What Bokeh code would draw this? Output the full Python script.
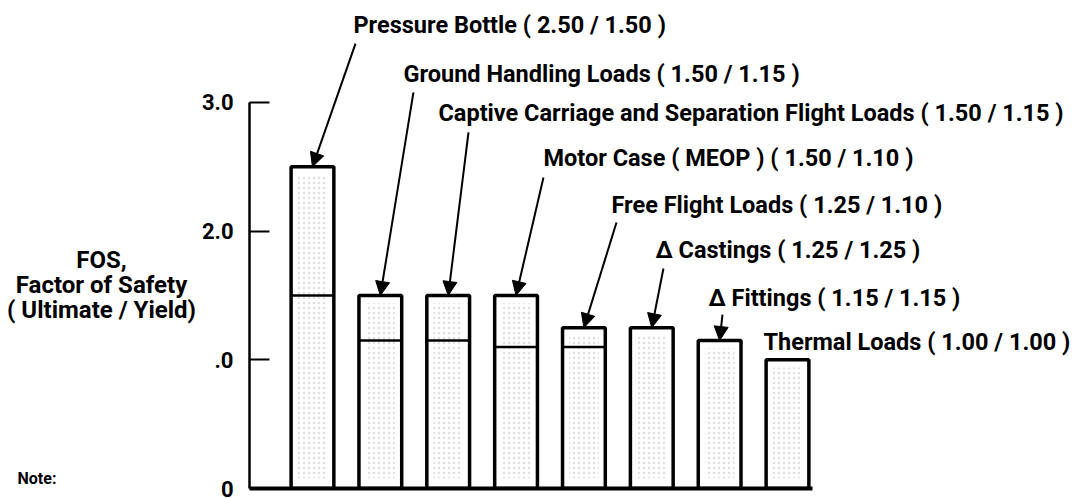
from bokeh.plotting import figure
from bokeh.models import (ColumnDataSource, Range1d, FixedTicker, Arrow, NormalHead,
                          LinearAxis)
from bokeh.layouts import row
from bokeh.core.properties import value
from bokeh.embed import file_html
from bokeh.resources import INLINE

# ---- data ----
categories = ["Pressure Bottle", "Ground Handling Loads",
              "Captive Carriage and Separation Flight Loads", "Motor Case ( MEOP )",
              "Free Flight Loads", "\u0394 Castings", "\u0394 Fittings", "Thermal Loads"]
ultimate = [2.50, 1.50, 1.50, 1.50, 1.25, 1.25, 1.15, 1.00]
yield_ = [1.50, 1.15, 1.15, 1.10, 1.10, 1.25, 1.15, 1.00]
y_ticks = [0, 1, 2, 3]
y_tick_labels = {0: "0", 1: ".0", 2: "2.0", 3: "3.0"}
y_title = ["FOS,", "Factor of Safety", "( Ultimate / Yield)"]
note = "Note:"

# ---- layout (annotation positions) ----
label_x = [0.604, 1.341, 1.857, 3.404, 4.406, 5.055, 5.836, 6.646]
label_y = [3.606, 3.225, 2.922, 2.565, 2.207, 1.850, 1.484, 1.142]
tail_x = [0.634, 1.488, 2.299, 3.404, 4.480, 5.172, 6.042]
tail_y = [3.458, 3.078, 2.767, 2.417, 2.067, 1.710, 1.352]
title_y = [233, 208, 182]   # left panel, px from bottom

FONT = "Roboto"
n = len(categories)
xs = list(range(n))
W = 0.63
H = 498
BOTTOM = 10
LW = 196
YR = Range1d(0, 3.7927)

texts = [f"{c} ( {u:.2f} / {y:.2f} )" for c, u, y in zip(categories, ultimate, yield_)]

# ---- left panel with axis title ----
lf = figure(width=LW, height=H, output_backend="svg", toolbar_location=None,
            x_range=Range1d(0, LW), y_range=Range1d(0, H), x_axis_type=None, y_axis_type=None,
            min_border_left=0, min_border_right=0, min_border_top=0, min_border_bottom=0)
lf.outline_line_color = None
lf.grid.visible = False
lf.text(x=[101] * 3, y=title_y, text=y_title, text_font=value(FONT), text_font_style="bold",
        text_font_size="24px", text_align="center", text_baseline="middle", text_color="black")
lf.text(x=[17], y=[10], text=[note], text_font=value(FONT), text_font_style="bold",
        text_font_size="16px", text_align="left", text_baseline="middle", text_color="black")

# ---- main chart ----
X0 = -0.928
PW = 878
BL = 53
p = figure(width=PW, height=H, output_backend="svg", toolbar_location=None,
           x_range=Range1d(X0, X0 + (PW - BL) / 67.86), y_range=YR,
           min_border_left=BL, min_border_right=0, min_border_top=0, min_border_bottom=BOTTOM,
           x_axis_type=None, y_axis_type=None)
p.outline_line_color = None
p.background_fill_color = "white"

ya = LinearAxis(ticker=FixedTicker(ticks=y_ticks), major_label_overrides=y_tick_labels,
                bounds=(0, 3))
ya.axis_line_width = 2.5
ya.axis_line_color = "black"
ya.major_tick_in = 20
ya.major_tick_out = 0
ya.major_tick_line_width = 2
ya.minor_tick_line_color = None
ya.major_label_standoff = 16
ya.major_label_text_font = FONT
ya.major_label_text_font_style = "bold"
ya.major_label_text_font_size = "22px"
ya.major_label_text_color = "black"
p.add_layout(ya, "left")

xa = LinearAxis(ticker=FixedTicker(ticks=[]), bounds=(X0, n - 1 + 0.37))
xa.axis_line_width = 4
xa.axis_line_color = "black"
xa.major_tick_line_color = None
xa.minor_tick_line_color = None
xa.major_label_text_font_size = "0px"
xa.major_label_standoff = 0
p.add_layout(xa, "below")

src = ColumnDataSource(dict(x=xs, ult=ultimate, yld=yield_,
                            inner_top=[u - 0.06 for u in ultimate],
                            inner_bot=[0.08] * n))
p.vbar(x="x", top="inner_top", bottom="inner_bot", width=W * 0.7, source=src,
       fill_color=None, line_color=None, hatch_pattern="dot", hatch_color="#999999",
       hatch_alpha=0.3, hatch_scale=5, hatch_weight=1)
p.vbar(x="x", top="ult", bottom=0, width=W, source=src, fill_color=None,
       line_color="black", line_width=3.5)
yx0 = [x - W / 2 for x, u, y in zip(xs, ultimate, yield_) if y < u]
yx1 = [x + W / 2 for x, u, y in zip(xs, ultimate, yield_) if y < u]
yy = [y for u, y in zip(ultimate, yield_) if y < u]
p.segment(x0=yx0, x1=yx1, y0=yy, y1=yy, line_color="black", line_width=2.5)

p.text(x=label_x, y=label_y, text=texts, text_font=value(FONT), text_font_style="bold",
       text_font_size="23.5px", text_baseline="middle", text_align="left", text_color="black")

asrc = ColumnDataSource(dict(x0=tail_x, y0=tail_y, x1=xs[:7], y1=ultimate[:7]))
p.add_layout(Arrow(end=NormalHead(size=14, fill_color="black", line_color="black", line_width=1),
                   x_start="x0", y_start="y0", x_end="x1", y_end="y1", source=asrc,
                   line_width=2, line_color="black"))

layout = row(lf, p, spacing=0)
open("out.html", "w").write(file_html(layout, INLINE))
